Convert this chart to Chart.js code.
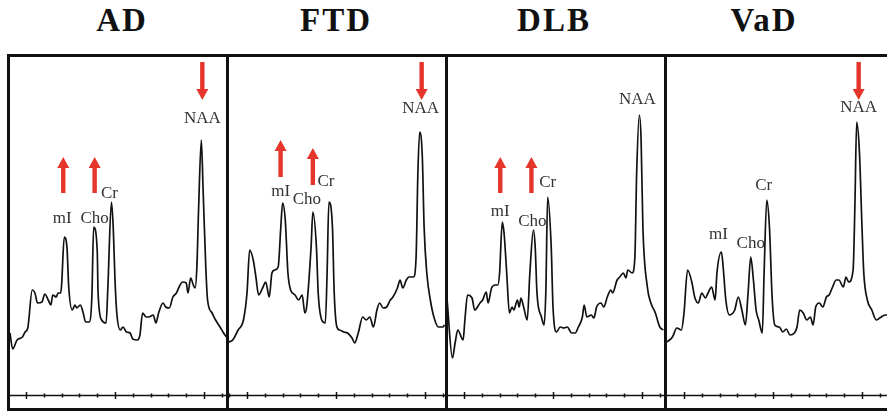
<!DOCTYPE html>
<html>
<head>
<meta charset="utf-8">
<title>MRS spectra: AD, FTD, DLB, VaD</title>
<script src="https://cdn.jsdelivr.net/npm/chart.js@4.4.1/dist/chart.umd.min.js"></script>
<style>
  html, body { margin: 0; padding: 0; background: #fff; }
  body { position: relative; width: 887px; height: 412px; overflow: hidden; }
  .title {
    position: absolute; top: 4px; transform: translateX(-50%);
    font: bold 33px "Liberation Serif", "DejaVu Serif", serif;
    line-height: 33px; letter-spacing: 2px; color: #111; white-space: nowrap;
  }
  .rule { position: absolute; background: #111; }
  canvas { position: absolute; }
</style>
</head>
<body>
<script>
// Group names shown above each spectrum
const groups = ['AD', 'FTD', 'DLB', 'VaD'];

// Chemical shift (ppm) and signal intensity (a.u.) for each group
const adPpm = [4.18,4.15,4.10,4.04,4.01,3.98,3.93,3.90,3.87,3.82,3.79,3.75,3.72,3.70,3.66,3.64,3.61,3.60,3.57,3.54,3.52,3.48,3.45,3.43,3.39,3.36,3.33,3.29,3.26,3.24,3.20,3.19,3.15,3.10,3.08,3.04,3.02,3.00,2.98,2.94,2.91,2.87,2.83,2.80,2.75,2.72,2.69,2.65,2.62,2.57,2.54,2.51,2.46,2.43,2.39,2.35,2.31,2.28,2.24,2.20,2.18,2.15,2.12,2.10,2.08,2.06,2.03,2.01,1.98,1.96,1.91,1.87,1.82,1.78,1.74];
const adSignal = [62,46,55,58,63,67,105,102,92,93,101,95,90,100,98,102,102,110,158,148,108,85,90,87,90,83,73,73,98,168,145,102,75,72,108,193,168,115,82,65,68,63,62,56,55,60,82,78,78,80,72,82,92,88,87,98,102,108,113,112,102,117,110,107,128,188,255,205,128,95,82,75,68,62,57];

const ftdPpm = [4.21,4.16,4.10,4.04,4.00,3.97,3.93,3.90,3.87,3.82,3.79,3.75,3.72,3.69,3.65,3.62,3.60,3.57,3.54,3.51,3.46,3.42,3.38,3.35,3.33,3.28,3.26,3.22,3.20,3.16,3.12,3.10,3.08,3.04,3.02,2.99,2.96,2.91,2.87,2.82,2.79,2.75,2.70,2.66,2.62,2.58,2.54,2.51,2.47,2.43,2.39,2.36,2.31,2.28,2.25,2.21,2.18,2.13,2.10,2.08,2.06,2.03,2.01,1.98,1.94,1.90,1.85,1.80,1.78];
const ftdSignal = [53,55,65,75,102,145,135,118,100,108,113,98,122,125,128,168,192,175,122,105,100,95,100,82,88,148,183,148,102,75,72,122,193,168,102,68,65,63,62,57,52,62,78,75,78,68,85,92,87,88,95,98,107,115,107,115,118,118,138,222,263,238,168,122,95,78,68,68,70];

const dlbPpm = [4.19,4.13,4.10,4.07,4.01,3.99,3.96,3.91,3.88,3.82,3.79,3.75,3.73,3.69,3.65,3.62,3.60,3.57,3.55,3.52,3.49,3.46,3.44,3.40,3.38,3.36,3.33,3.29,3.26,3.22,3.20,3.18,3.13,3.10,3.08,3.06,3.02,3.00,2.96,2.92,2.88,2.84,2.79,2.75,2.72,2.67,2.65,2.62,2.57,2.54,2.51,2.46,2.43,2.39,2.35,2.33,2.28,2.25,2.21,2.18,2.16,2.11,2.08,2.06,2.03,2.01,1.99,1.94,1.90,1.85,1.80,1.76];
const dlbSignal = [95,37,52,65,55,75,100,97,85,92,95,103,92,107,110,110,122,173,162,122,82,88,85,95,88,97,88,75,122,165,148,102,78,70,105,198,148,88,63,68,67,68,62,62,67,78,90,78,80,77,88,92,88,98,105,102,115,118,122,117,125,122,138,222,280,255,168,108,92,82,68,65];

const vadPpm = [4.19,4.13,4.08,4.03,4.00,3.96,3.91,3.88,3.84,3.80,3.76,3.73,3.69,3.65,3.63,3.58,3.56,3.53,3.49,3.45,3.43,3.39,3.35,3.31,3.28,3.25,3.22,3.19,3.16,3.12,3.10,3.07,3.04,3.01,2.98,2.93,2.89,2.85,2.81,2.76,2.73,2.70,2.66,2.62,2.58,2.55,2.52,2.48,2.44,2.40,2.37,2.33,2.29,2.26,2.21,2.18,2.15,2.10,2.08,2.06,2.03,2.00,1.98,1.94,1.89,1.84,1.80,1.74,1.70];
const vadSignal = [53,58,67,65,82,125,112,98,92,102,97,102,108,95,122,143,128,95,80,82,85,98,85,70,102,138,115,85,75,62,122,195,168,98,70,68,63,66,60,62,68,85,82,75,78,70,88,92,88,98,100,108,115,115,108,118,113,125,188,273,245,168,122,95,85,75,77,80,80];

// Nominal metabolite resonances (ppm); each label sits on the tallest point near its shift
const metabolites = { mI: 3.56, Cho: 3.22, Cr: 3.03, NAA: 2.02 };

// Axis ticks (ppm): minor every 0.2, major on whole numbers
const tickStep = 0.2;
const majorTicks = [2, 3, 4];

const spectra = [
  { ppm: adPpm,  signal: adSignal },
  { ppm: ftdPpm, signal: ftdSignal },
  { ppm: dlbPpm, signal: dlbSignal },
  { ppm: vadPpm, signal: vadSignal }
];

// Peak labels (pixel nudges from the peak tip) and change arrows per group
const peakLabels = [
  [['mI',-2,-18],['Cho',1,-8],['Cr',-2,-8],['NAA',1,-21]],
  [['mI',-2,-11],['Cho',-6,-12],['Cr',-3,-20],['NAA',1,-23]],
  [['mI',-2,-10],['Cho',-1,-8],['Cr',0,-14],['NAA',-2,-15]],
  [['mI',-3,-17],['Cho',0,-13],['Cr',-3,-14],['NAA',2,-14]]
];
// [metabolite, pixel nudge, tail intensity, tip intensity]
const changeArrows = [
  [['mI',-1,202,238],['Cho',1,202,238],['NAA',1,333,295]],
  [['mI',-2,218,255],['Cho',0,210,247],['NAA',2,333,295]],
  [['mI',-2,202,238],['Cho',-2,202,238]],
  [['NAA',2,333,295]]
];

// Page layout
const PX_PER_PPM = 89;
const PLOT_TOP = 57, PLOT_H = 351, ZERO_FROM_TOP = 338;
const panels = [
  { left: 10,  width: 216, off3: 105, titleX: 122 },
  { left: 229, width: 216, off3: 107, titleX: 336 },
  { left: 448, width: 216, off3: 105, titleX: 554 },
  { left: 667, width: 220, off3: 106, titleX: 764 }
];
const RED = '#e6352b';

function addRule(l, t, w, h) {
  const d = document.createElement('div');
  d.className = 'rule';
  Object.assign(d.style, { left: l + 'px', top: t + 'px', width: w + 'px', height: h + 'px' });
  document.body.appendChild(d);
}
// frame: top, bottom, left edge and dividers
addRule(7, 54, 900, 3);
addRule(7, 408, 900, 3);
addRule(7, 54, 3, 357);
[226, 445, 664].forEach(x => addRule(x, 54, 3, 357));

function peakIndex(ppm, signal, centre) {
  let best = -1;
  for (let i = 0; i < ppm.length; i++) {
    if (Math.abs(ppm[i] - centre) <= 0.07 && (best < 0 || signal[i] > signal[best])) best = i;
  }
  return best;
}

const decor = {
  id: 'decor',
  afterDatasetsDraw(chart, args, opts) {
    const { ctx, chartArea: a, scales: { x, y } } = chart;
    const sp = opts.spectrum;
    const y0 = Math.round(y.getPixelForValue(0)) + 0.5;
    ctx.save();
    ctx.strokeStyle = '#111';
    ctx.lineWidth = 1.3;
    ctx.beginPath();
    ctx.moveTo(a.left - 3, y0);
    ctx.lineTo(a.right + 3, y0);
    ctx.stroke();
    ctx.lineWidth = 1.5;
    for (let k = Math.ceil(x.min / tickStep); k <= Math.floor(x.max / tickStep); k++) {
      const v = +(k * tickStep).toFixed(2);
      const px = Math.round(x.getPixelForValue(v)) + 0.5;
      const h = majorTicks.includes(v) ? 3.5 : 2;
      ctx.beginPath();
      ctx.moveTo(px, y0 - h);
      ctx.lineTo(px, y0 + h);
      ctx.stroke();
    }

    // change arrows
    ctx.fillStyle = RED;
    opts.arrows.forEach(([name, dx, tail, tip]) => {
      const i = peakIndex(sp.ppm, sp.signal, metabolites[name]);
      const px = x.getPixelForValue(sp.ppm[i]) + dx;
      const yt = y.getPixelForValue(tail), yp = y.getPixelForValue(tip);
      const dir = yp < yt ? -1 : 1;
      const head = 11, hw = 6, sw = 2.2;
      const yb = yp - dir * head;
      ctx.fillRect(px - sw, Math.min(yt, yb), sw * 2, Math.abs(yb - yt));
      ctx.beginPath();
      ctx.moveTo(px - hw, yb);
      ctx.lineTo(px + hw, yb);
      ctx.lineTo(px, yp);
      ctx.closePath();
      ctx.fill();
    });

    // metabolite labels
    ctx.fillStyle = '#333';
    ctx.font = '17px "Liberation Serif", "DejaVu Serif", serif';
    ctx.textAlign = 'center';
    ctx.textBaseline = 'middle';
    opts.labels.forEach(([name, dx, dy]) => {
      const i = peakIndex(sp.ppm, sp.signal, metabolites[name]);
      const px = x.getPixelForValue(sp.ppm[i]) + dx;
      const py = y.getPixelForValue(sp.signal[i]) + dy;
      ctx.fillText(name, px, py);
    });
    ctx.restore();
  }
};

groups.forEach((name, g) => {
  const p = panels[g];
  const sp = spectra[g];

  const t = document.createElement('div');
  t.className = 'title';
  t.textContent = name;
  t.style.left = p.titleX + 'px';
  document.body.appendChild(t);

  const cv = document.createElement('canvas');
  cv.width = p.width;
  cv.height = PLOT_H;
  cv.style.left = p.left + 'px';
  cv.style.top = PLOT_TOP + 'px';
  document.body.appendChild(cv);

  new Chart(cv.getContext('2d'), {
    type: 'line',
    data: {
      datasets: [{
        data: sp.ppm.map((v, i) => ({ x: v, y: sp.signal[i] })),
        borderColor: '#111',
        borderWidth: 1.7,
        borderJoinStyle: 'round',
        pointRadius: 0,
        cubicInterpolationMode: 'monotone',
        fill: false
      }]
    },
    options: {
      responsive: false,
      animation: false,
      devicePixelRatio: 1,
      layout: { padding: 0 },
      plugins: {
        legend: { display: false },
        tooltip: { enabled: false },
        decor: { spectrum: sp, labels: peakLabels[g], arrows: changeArrows[g] }
      },
      scales: {
        x: {
          type: 'linear',
          reverse: true,
          display: false,
          min: 3 - (p.width - p.off3) / PX_PER_PPM,
          max: 3 + p.off3 / PX_PER_PPM
        },
        y: {
          display: false,
          min: ZERO_FROM_TOP - PLOT_H,
          max: ZERO_FROM_TOP
        }
      }
    },
    plugins: [decor]
  });
});
</script>
</body>
</html>
